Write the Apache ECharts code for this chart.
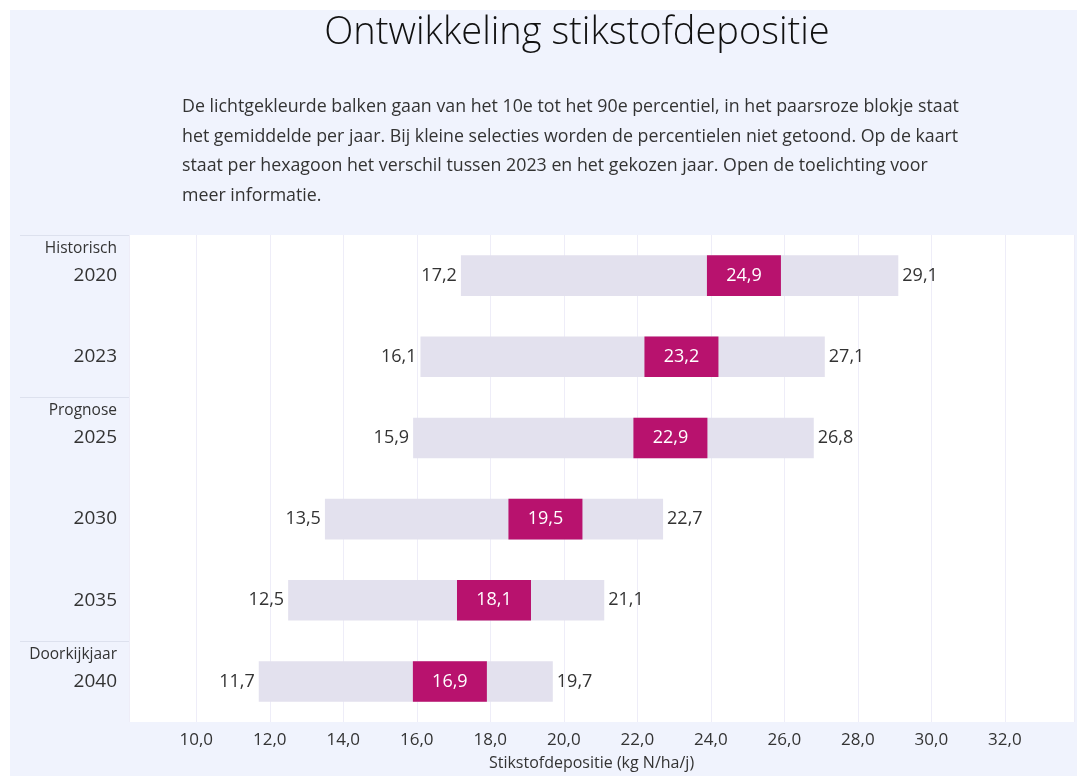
<!DOCTYPE html>
<html>
<head>
<meta charset="utf-8">
<script src="https://cdn.jsdelivr.net/npm/echarts@6/dist/echarts.min.js"></script>
<style>
  html, body { margin: 0; padding: 0; background: #ffffff; }
  #chart { position: absolute; left: 10px; top: 10px; width: 1067px; height: 766px; }
</style>
</head>
<body>
<div id="chart"></div>
<script>
// jaren en groepen (links)
const years = ['2020', '2023', '2025', '2030', '2035', '2040'];
const groups = ['Historisch', '', 'Prognose', '', '', 'Doorkijkjaar'];
// 10e percentiel, gemiddelde, 90e percentiel
const p10 = [17.2, 16.1, 15.9, 13.5, 12.5, 11.7];
const mean = [24.9, 23.2, 22.9, 19.5, 18.1, 16.9];
const p90 = [29.1, 27.1, 26.8, 22.7, 21.1, 19.7];

const fmt = (v) => v.toFixed(1).replace('.', ',');
const FONT = '"Open Sans", "Noto Sans", sans-serif';

const chart = echarts.init(document.getElementById('chart'));

const seriesData = years.map((y, i) => [i, p10[i], mean[i], p90[i]]);

const headerGraphics = [
  {
    type: 'text',
    x: 567,
    y: 23,
    style: {
      text: 'Ontwikkeling stikstofdepositie',
      font: '300 38px ' + FONT,
      fill: '#111',
      textAlign: 'center',
      textVerticalAlign: 'middle'
    }
  },
  {
    type: 'text',
    x: 172,
    y: 82,
    style: {
      text: 'De lichtgekleurde balken gaan van het 10e tot het 90e percentiel, in het paarsroze blokje staat\n' +
        'het gemiddelde per jaar. Bij kleine selecties worden de percentielen niet getoond. Op de kaart\n' +
        'staat per hexagoon het verschil tussen 2023 en het gekozen jaar. Open de toelichting voor\n' +
        'meer informatie.',
      font: '17.8px ' + FONT,
      lineHeight: 29.7,
      fill: '#333',
      textAlign: 'left',
      textVerticalAlign: 'top'
    }
  }
];

chart.setOption({
  backgroundColor: '#f0f3fd',
  animation: false,
  textStyle: { fontFamily: FONT },
  graphic: headerGraphics,
  grid: {
    left: 119,
    right: 3,
    top: 225,
    bottom: 54,
    outerBoundsMode: 'none',
    show: true,
    backgroundColor: '#ffffff',
    borderWidth: 0
  },
  xAxis: {
    type: 'value',
    min: 8.17,
    max: 33.88,
    splitNumber: 12,
    name: 'Stikstofdepositie (kg N/ha/j)',
    nameLocation: 'middle',
    nameGap: 33,
    nameTextStyle: { color: '#333', fontSize: 16, fontFamily: FONT, padding: [0, 20, 0, 0] },
    axisLine: { show: false },
    axisTick: { show: false },
    splitLine: { lineStyle: { color: '#eeedf8', width: 1 } },
    axisLabel: {
      color: '#333',
      fontSize: 17,
      margin: 10,
      showMinLabel: false,
      showMaxLabel: false,
      formatter: (v) => fmt(v)
    }
  },
  yAxis: {
    type: 'category',
    data: years,
    inverse: true,
    axisLine: { show: false },
    splitLine: { show: false },
    axisTick: { show: false },
    axisLabel: {
      margin: 12,
      formatter: (value, i) => groups[i]
        ? '{g|' + groups[i] + '}\n{y|' + value + '}\n{s| }'
        : '{y|' + value + '}',
      rich: {
        g: { fontSize: 15.5, lineHeight: 30, color: '#333', fontFamily: FONT, align: 'right' },
        y: { fontSize: 19, lineHeight: 24, color: '#333', fontFamily: FONT, align: 'right' },
        s: { fontSize: 10, lineHeight: 30, align: 'right' }
      }
    }
  },
  series: [
    {
      type: 'custom',
      encode: { x: [1, 2, 3], y: 0 },
      data: seriesData,
      renderItem: (params, api) => {
        const cat = api.value(0);
        const lo = api.coord([api.value(1), cat]);
        const mid = api.coord([api.value(2), cat]);
        const hi = api.coord([api.value(3), cat]);
        const h = api.size([0, 1])[1] * 0.5;
        const blockW = 74;
        const y = lo[1];
        return {
          type: 'group',
          children: [
            {
              type: 'rect',
              shape: { x: lo[0], y: y - h / 2, width: hi[0] - lo[0], height: h },
              style: { fill: '#e3e1ee' }
            },
            {
              type: 'rect',
              shape: { x: mid[0] - blockW / 2, y: y - h / 2, width: blockW, height: h },
              style: { fill: '#b8126e' }
            },
            {
              type: 'text',
              x: mid[0],
              y: y,
              style: {
                text: fmt(api.value(2)),
                font: '18px ' + FONT,
                fill: '#ffffff',
                textAlign: 'center',
                textVerticalAlign: 'middle'
              }
            },
            {
              type: 'text',
              x: lo[0] - 4,
              y: y,
              style: {
                text: fmt(api.value(1)),
                font: '18px ' + FONT,
                fill: '#333',
                textAlign: 'right',
                textVerticalAlign: 'middle'
              }
            },
            {
              type: 'text',
              x: hi[0] + 4,
              y: y,
              style: {
                text: fmt(api.value(3)),
                font: '18px ' + FONT,
                fill: '#333',
                textAlign: 'left',
                textVerticalAlign: 'middle'
              }
            }
          ]
        };
      }
    }
  ]
});

// scheidingslijnen boven elke groep, positie via de y-as
const band = chart.convertToPixel({ yAxisIndex: 0 }, 1) - chart.convertToPixel({ yAxisIndex: 0 }, 0);
const gridLeft = chart.convertToPixel({ xAxisIndex: 0 }, 8.17);
const separators = [];
groups.forEach((g, i) => {
  if (!g) return;
  const y = Math.round(chart.convertToPixel({ yAxisIndex: 0 }, i) - band / 2) + 0.5;
  separators.push({
    type: 'line',
    shape: { x1: 10, y1: y, x2: gridLeft, y2: y },
    style: { stroke: '#dde1ee', lineWidth: 1 }
  });
});
chart.setOption({ graphic: headerGraphics.concat(separators) });
</script>
</body>
</html>
